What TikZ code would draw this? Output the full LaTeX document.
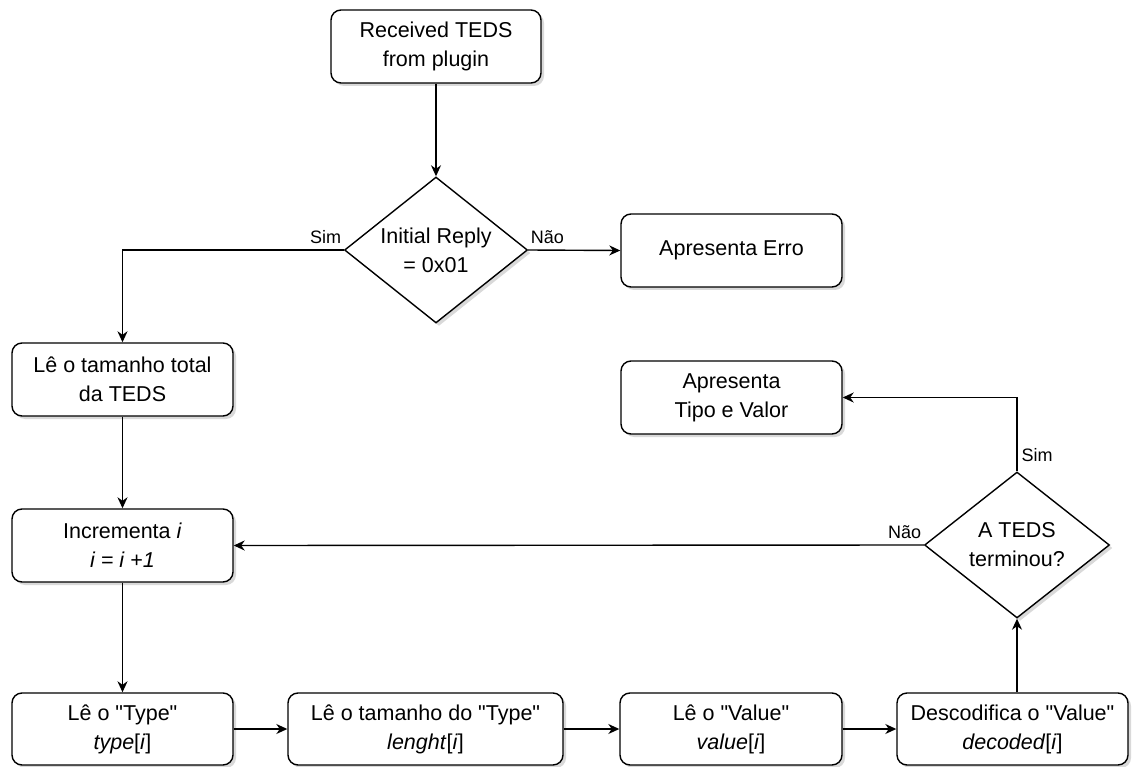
\documentclass[tikz,border=0pt]{standalone}
\usepackage{fontspec}
\setmainfont{Liberation Sans}[Ligatures=TeXOff]
\usetikzlibrary{shapes.geometric,arrows.meta,shadows}

\tikzset{
  base/.style={draw=black, line width=1.4pt, fill=white, text=black,
    font=\fontsize{21.5}{29}\selectfont, align=center,
    drop shadow={shadow xshift=3pt, shadow yshift=-3pt, opacity=0.3, fill=gray}},
  procbox/.style={base, rectangle, rounded corners=10pt, inner sep=0pt,
    minimum height=73pt},
  decision/.style={base, diamond, aspect=1.25, inner sep=0pt},
  flow/.style={draw=black, line width=1.4pt,
    -{Stealth[length=11pt, width=10pt, inset=3.5pt]}},
  branch/.style={font=\fontsize{18}{20}\selectfont, text=black, inner sep=2pt}
}

\begin{document}
\begin{tikzpicture}[x=1pt, y=-1pt]
  \useasboundingbox (0,0) rectangle (1132,767);

  % top part: start and first decision
  \node[procbox, minimum width=210pt] (recv) at (436,46.5) {Received TEDS\\from plugin};
  \node[decision, minimum width=183pt, minimum height=146pt] (chk) at (436,250) {Initial Reply\\= 0x01};
  \node[procbox, minimum width=221pt] (err) at (731.5,250.5) {Apresenta Erro};

  % left column
  \node[procbox, minimum width=221pt] (total) at (122.5,379.5) {Lê o tamanho total\\da TEDS};
  \node[procbox, minimum width=221pt] (inc) at (122.5,545.5) {Incrementa \textit{i}\\\textit{i = i +1}};

  % end test and result
  \node[procbox, minimum width=221pt] (show) at (731.5,397.5) {Apresenta\\Tipo e Valor};
  \node[decision, minimum width=185pt, minimum height=146pt] (done) at (1017,545) {A TEDS\\terminou?};

  % bottom row
  \node[procbox, minimum width=221pt, minimum height=72pt] (rtype) at (122.5,729) {Lê o "Type"\\\textit{type}[\textit{i}]};
  \node[procbox, minimum width=275pt, minimum height=72pt] (rlen) at (425.5,729) {Lê o tamanho do "Type"\\\textit{lenght}[\textit{i}]};
  \node[procbox, minimum width=222pt, minimum height=72pt] (rval) at (731,729) {Lê o "Value"\\\textit{value}[\textit{i}]};
  \node[procbox, minimum width=231pt, minimum height=72pt] (dec) at (1012.5,729) {Descodifica o "Value"\\\textit{decoded}[\textit{i}]};

  % connectors
  \draw[flow] (recv) -- (chk);
  \draw[flow] (chk.west) -| (total.north)
    node[branch, pos=0, anchor=south east, yshift=4pt] {Sim};
  \draw[flow] (chk.east) -- (err.west)
    node[branch, pos=0, anchor=south west, yshift=4pt] {Não};
  \draw[flow] (total) -- (inc);
  \draw[flow] (inc) -- (rtype);
  \draw[flow] (rtype) -- (rlen);
  \draw[flow] (rlen) -- (rval);
  \draw[flow] (rval) -- (dec);
  \draw[flow] (dec.north -| done.south) -- (done.south);
  \draw[flow] (done.north) |- (show.east)
    node[branch, pos=0, anchor=south west, xshift=2pt, yshift=7pt] {Sim};
  \draw[flow] (done.west) -- (inc.east)
    node[branch, pos=0, anchor=south east, yshift=4pt] {Não};
\end{tikzpicture}
\end{document}
